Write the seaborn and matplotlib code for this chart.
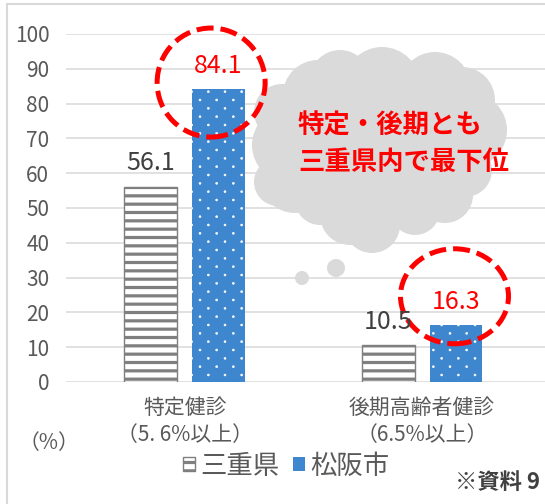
import numpy as np
import pandas as pd
import matplotlib
matplotlib.use("Agg")
import matplotlib.pyplot as plt
import matplotlib.hatch as mhatch
from matplotlib.path import Path
from matplotlib.patches import Ellipse, Circle, Rectangle, Patch
import seaborn as sns

# ---- data -------------------------------------------------------------
categories = ["特定健診\n（5. 6%以上）", "後期高齢者健診\n（6.5%以上）"]
regions = ["三重県", "松阪市"]
mie_values = [56.1, 10.5]
matsusaka_values = [84.1, 16.3]
y_ticks = [0, 10, 20, 30, 40, 50, 60, 70, 80, 90, 100]
unit_label = "（%）"
cloud_lines = ["特定・後期とも", "三重県内で最下位"]
source_note = "※資料 9"

W, H = 545, 504


class StaggeredDots(mhatch.HatchPatternBase):
    """'.' hatch drawn as small dots on a staggered (diamond) lattice."""

    def __init__(self, hatch, density):
        n = hatch.count('.') * density
        self.n = n
        circ = Path.unit_circle()
        self._sv, self._sc = circ.vertices, circ.codes
        centres = []
        if n:
            for row in range(2 * n + 1):
                y = row / (2 * n)
                if row % 2 == 0:
                    xs = np.linspace(0, 1, n + 1)
                else:
                    xs = (np.arange(n) + 0.5) / n
                centres.extend((x, y) for x in xs)
        self._centres = np.array(centres, dtype=float).reshape(-1, 2)
        self.num_vertices = len(self._centres) * len(self._sv)

    def set_vertices_and_codes(self, vertices, codes):
        radius = 0.06 / self.n
        k = len(self._sv)
        for i, (cx, cy) in enumerate(self._centres):
            vertices[i * k:(i + 1) * k] = self._sv * radius + (cx, cy)
            codes[i * k:(i + 1) * k] = self._sc


mhatch._hatch_types = [StaggeredDots if t is mhatch.SmallFilledCircles else t
                       for t in mhatch._hatch_types]

sns.set_theme(style="white")
plt.rcParams["font.family"] = ["Noto Sans CJK JP", "DejaVu Sans"]
plt.rcParams["hatch.linewidth"] = 2.3

df = pd.DataFrame({
    "category": categories * 2,
    "region": [regions[0]] * len(categories) + [regions[1]] * len(categories),
    "value": mie_values + matsusaka_values,
})

fig = plt.figure(figsize=(W / 100, H / 100), dpi=100)
fig.patch.set_facecolor("white")
ax_left, ax_right, ax_bottom, ax_top = 66, 545, 382, 34
ax = fig.add_axes([ax_left / W, (H - ax_bottom) / H,
                   (ax_right - ax_left) / W, (ax_bottom - ax_top) / H])

sns.barplot(data=df, x="category", y="value", hue="region",
            order=categories, hue_order=regions, width=0.572, gap=0.22,
            errorbar=None, legend=False, ax=ax)

xlim = (-0.5, 1.518)
ax.set_xlim(*xlim)
ax.set_ylim(0, 100)
ax.set_yticks(y_ticks)
ax.set_xlabel("")
ax.set_ylabel("")
ax.set_axisbelow(True)
ax.yaxis.grid(True, color="#d9d9d9", linewidth=1.1)
ax.xaxis.grid(False)
for s in ax.spines.values():
    s.set_visible(False)
ax.tick_params(axis="y", length=0, pad=12, labelsize=15, labelcolor="#595959")
ax.tick_params(axis="x", length=0, pad=11, labelsize=15, labelcolor="#595959")
for lbl in ax.get_xticklabels():
    lbl.set_linespacing(1.3)

styles = {
    "三重県": dict(facecolor="white", edgecolor="#7f7f7f", linewidth=1.0,
                 hatch="--", hatch_lw=2.3, label_color="#404040"),
    "松阪市": dict(facecolor="#3e86cd", edgecolor="white", linewidth=0.0,
                 hatch=".", hatch_lw=0.4, label_color="#ff0000"),
}

for region, container in zip(regions, ax.containers):
    st = styles[region]
    for bar in container:
        bar.set_facecolor(st["facecolor"])
        bar.set_edgecolor(st["edgecolor"])
        bar.set_linewidth(st["linewidth"])
        bar.set_hatch(st["hatch"])
        if hasattr(bar, "set_hatch_linewidth"):
            bar.set_hatch_linewidth(st["hatch_lw"])
        bar.set_zorder(2)
        v = bar.get_height()
        ax.annotate(f"{v:.1f}", xy=(bar.get_x() + bar.get_width() / 2, v),
                    xytext=(0, 17.0), textcoords="offset points",
                    ha="center", va="center", fontsize=18,
                    color=st["label_color"], zorder=6, annotation_clip=False)

# pixel -> data scale
sx = (xlim[1] - xlim[0]) / (ax_right - ax_left)
sy = 100 / (ax_bottom - ax_top)

# dashed red rings around the 松阪市 values (offsets and sizes in pixels)
rings = [(-7.5, 6.8, 108, 109), (-1.5, 29.0, 108, 95)]
for bar, (dx, dy, wpx, hpx) in zip(ax.containers[1], rings):
    cx = bar.get_x() + bar.get_width() / 2 + dx * sx
    cy = bar.get_height() + dy * sy
    ax.add_patch(Ellipse((cx, cy), wpx * sx, hpx * sy, fill=False,
                         edgecolor="#ff0000", linewidth=3.6,
                         linestyle=(0, (3.4, 1.4)), zorder=5, clip_on=False))

# thought cloud (pixel positions, origin top-left)
puffs = [
    (380, 145, 85), (318, 95, 35), (382, 85, 38), (435, 88, 36), (462, 100, 33),
    (470, 130, 37), (465, 170, 27), (445, 195, 28), (372, 225, 28),
    (415, 210, 25), (320, 200, 25), (290, 145, 38), (295, 178, 35),
    (300, 110, 30), (340, 80, 30), (350, 215, 30), (282, 112, 28),
    (278, 182, 24),
    (336, 268, 9), (302, 278, 7),
]
for x, y, r in puffs:
    ax.add_patch(Circle((x / 100, (H - y) / 100), r / 100,
                        transform=fig.dpi_scale_trans, facecolor="#dadada",
                        edgecolor="none", zorder=3, clip_on=False))

fig.text(298 / W, (H - 126) / H, cloud_lines[0], ha="left", va="center",
         fontsize=19, fontweight="bold", color="#ff0000")
fig.text(298 / W, (H - 162) / H, cloud_lines[1], ha="left", va="center",
         fontsize=19, fontweight="bold", color="#ff0000")

# unit label
fig.text(48.5 / W, (H - 443) / H, unit_label, ha="center", va="center",
         fontsize=15, color="#595959")

# legend
handles = [
    Patch(facecolor="white", edgecolor="#7f7f7f", hatch="--", linewidth=1.0),
    Patch(facecolor="#3e86cd", edgecolor="#3e86cd", linewidth=0.0),
]
fig.legend(handles, regions, loc="center",
           bbox_to_anchor=(286 / W, (H - 466) / H), ncol=2, frameon=False,
           fontsize=19, labelcolor="#595959", handlelength=0.46,
           handleheight=0.46, handletextpad=0.2, columnspacing=0.5,
           borderpad=0, borderaxespad=0)

# source note
fig.text(540 / W, (H - 482) / H, source_note, ha="right", va="center",
         fontsize=16, fontweight="bold", color="#404040")

# outer frame
fig.add_artist(Rectangle((7 / 100, -0.5), 6, (H - 4) / 100 + 0.5,
                         transform=fig.dpi_scale_trans, fill=False,
                         edgecolor="#d9d9d9", linewidth=1.5))

fig.savefig("out.png", dpi=100)
